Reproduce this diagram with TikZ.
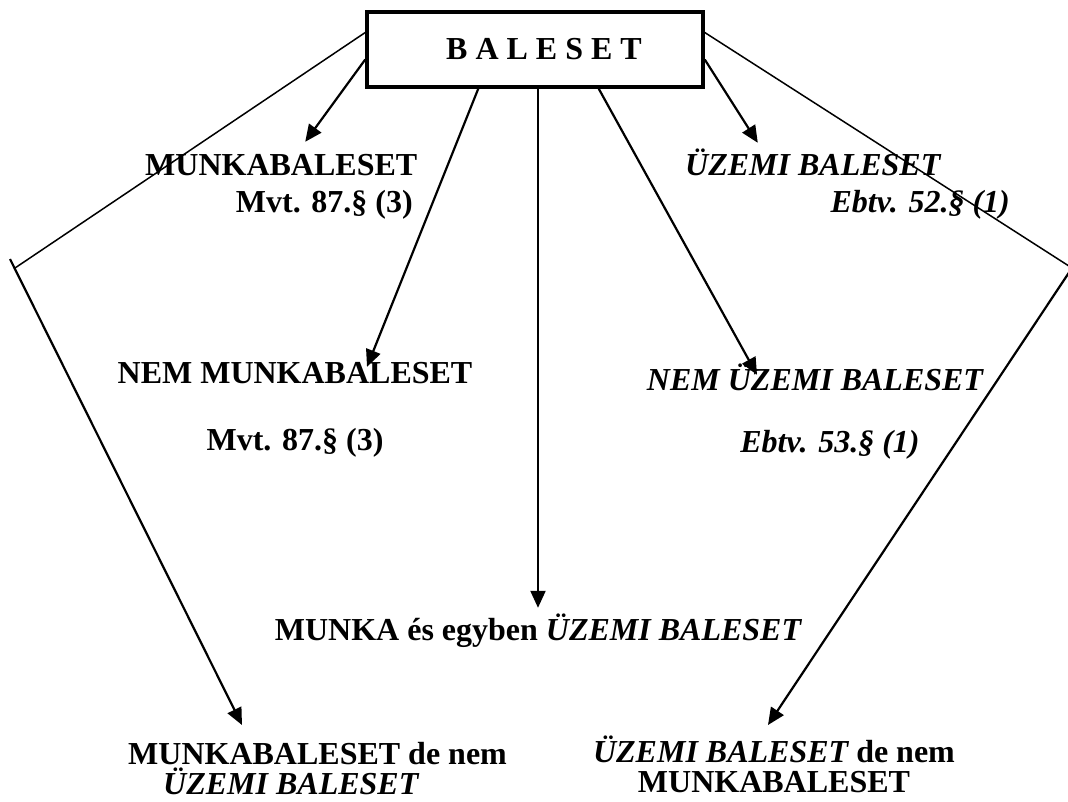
\documentclass[tikz,border=0pt]{standalone}
\usepackage{fontspec}
\setmainfont{Liberation Serif}
\usetikzlibrary{arrows.meta, calc}

\begin{document}
\begin{tikzpicture}[
    x=1pt, y=-1pt,
    >={Triangle[length=17pt, width=15pt]},
    every node/.style={font=\fontsize{32pt}{30pt}\selectfont\bfseries, text=black},
    box/.style={
      rectangle, draw=black, line width=3.5pt,
      minimum width=336pt, minimum height=75pt, inner sep=0pt
    },
    lbl/.style={inner sep=0pt, text height=22pt, text depth=7pt},
    lblMulti/.style={inner sep=0pt},
    arr/.style={->, draw=black, line width=2.2pt},
    rim/.style={draw=black, line width=1.5pt}
  ]
    \useasboundingbox (0,0) rectangle (1068,801);

    \node[box] (baleset) at (535,49.5) {\raisebox{-3pt}{\hspace*{18pt}B A L E S E T}};

    \node[lbl, anchor=base west] (munka) at (145,175) {MUNKABALESET};
    \node[lbl, anchor=base east] (munkaRef) at (413,212) {Mvt. 87.§ (3)};
    \node[lbl, anchor=base west] (uzemi) at (685,175) {\itshape ÜZEMI BALESET};
    \node[lbl, anchor=base east] (uzemiRef) at (1010,212) {\itshape Ebtv. 52.§ (1)};

    \node[lbl, anchor=base] (nemMunka) at (295,383) {NEM MUNKABALESET};
    \node[lbl, anchor=base] (nemMunkaRef) at (295,450) {Mvt. 87.§ (3)};
    \node[lbl, anchor=base] (nemUzemi) at (815,390) {\itshape NEM ÜZEMI BALESET};
    \node[lbl, anchor=base] (nemUzemiRef) at (830,452) {\itshape Ebtv. 53.§ (1)};

    \node[lbl, anchor=base] (egyben) at (538,640) {MUNKA és egyben {\itshape ÜZEMI BALESET}};

    \node[lblMulti, anchor=north west, align=left] (munkaNem) at (128,742)
      {MUNKABALESET de nem\\\hspace*{35pt}{\itshape ÜZEMI BALESET}};
    \node[lblMulti, anchor=north, align=center] (uzemiNem) at (774,736)
      {{\itshape ÜZEMI BALESET} de nem\\MUNKABALESET};

    % outer corners
    \coordinate (kneeL) at (15,268);
    \coordinate (tickL) at (10,259);
    \coordinate (kneeR) at (1072,268);

    % left side
    \draw[rim] ([shift={(0,-17)}]baleset.west) -- (kneeL);
    \draw[arr] (tickL) -- ([shift={(114,-17)}]munkaNem.north west);
    \draw[arr] ([shift={(0,10)}]baleset.west) -- ([shift={(24,-11)}]munka.north);
    \draw[arr] ([shift={(113,0)}]baleset.south west) -- ([shift={(72,6)}]nemMunka.north);

    % middle
    \draw[arr] ([shift={(3,0)}]baleset.south) -- ([shift={(0,-10)}]egyben.north);

    % right side
    \draw[arr] ([shift={(-106,0)}]baleset.south east) -- ([shift={(-58,7)}]nemUzemi.north);
    \draw[arr] ([shift={(0,10)}]baleset.east) -- ([shift={(-55,-10)}]uzemi.north);
    \draw[rim] ([shift={(0,-17)}]baleset.east) -- (kneeR);
    \draw[arr] (kneeR) -- ([shift={(-6,-11)}]uzemiNem.north);
\end{tikzpicture}
\end{document}
